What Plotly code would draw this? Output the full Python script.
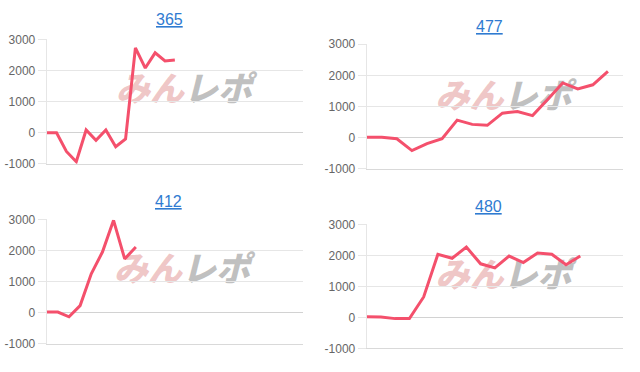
import plotly.graph_objects as go

W, H = 640, 372

titles = ["365", "477", "412", "480"]
values_365 = [0, 0, -600, -930, 90, -240, 90, -450, -200, 2730, 2080, 2570, 2310, 2340]
values_477 = [20, 20, -30, -410, -185, -30, 565, 430, 400, 790, 840, 710, 1230, 1760, 1570, 1700, 2130]
values_412 = [20, 20, -130, 230, 1250, 1950, 2970, 1730, 2110]
values_480 = [20, 10, -40, -40, 660, 2040, 1910, 2270, 1730, 1600, 1980, 1770, 2080, 2040, 1700, 1980]
label_counts = [27, 18, 24, 19]  # number of x labels per panel
series = [values_365, values_477, values_412, values_480]

y_ticks = [-1000, 0, 1000, 2000, 3000]

# panel layout in pixels: (left, right, top, bottom)
panels = [
    (46.7, 303, 33.7, 163.0),
    (366.7, 623, 38.7, 168.3),
    (46.7, 303, 220.7, 350.0),
    (366.7, 623, 226.0, 354.7),
]
title_pos = [(169, 13.5), (489, 20.5), (168, 202.5), (488, 207.5)]
wm_pos = [(184, 89), (503.5, 96), (182, 276), (503.5, 282)]

LINE = "#f4506c"
GRID = "#e6e6e6"

fig = go.Figure()

# watermark layer on the first (bottom) subplot, pixel coordinates
wm_x, wm_y = [p[0] for p in wm_pos], [p[1] for p in wm_pos]
fig.add_trace(go.Scatter(x=wm_x, y=wm_y, mode="text", text=["<i>みん</i>"] * 4,
                         textposition="middle left",
                         textfont=dict(family="Noto Sans CJK JP", size=34, weight=900,
                                       color="rgba(226,150,150,0.55)"),
                         xaxis="x", yaxis="y", hoverinfo="skip", showlegend=False))
fig.add_trace(go.Scatter(x=wm_x, y=wm_y, mode="text", text=["<i>レポ</i>"] * 4,
                         textposition="middle right",
                         textfont=dict(family="Noto Sans CJK JP", size=34, weight=900,
                                       color="rgba(150,150,150,0.6)"),
                         xaxis="x", yaxis="y", hoverinfo="skip", showlegend=False))

layout = dict(
    width=W, height=H, margin=dict(l=0, r=0, t=0, b=0),
    paper_bgcolor="white", plot_bgcolor="rgba(0,0,0,0)",
    showlegend=False,
    font=dict(family="Liberation Sans, Arial, sans-serif", color="#666666", size=12),
    xaxis=dict(domain=[0, 1], range=[0, W], visible=False, fixedrange=True),
    yaxis=dict(domain=[0, 1], range=[H, 0], visible=False, fixedrange=True),
)

annotations = []
for i, (vals, n, (l, r, t, b)) in enumerate(zip(series, label_counts, panels)):
    k = i + 2
    xa, ya = f"xaxis{k}", f"yaxis{k}"
    fig.add_trace(go.Scatter(x=list(range(len(vals))), y=vals, mode="lines",
                             line=dict(color=LINE, width=3),
                             xaxis=f"x{k}", yaxis=f"y{k}", hoverinfo="skip"))
    layout[xa] = dict(domain=[l / W, r / W], range=[0, n - 1], showgrid=False,
                      zeroline=False, showticklabels=False, ticks="",
                      showline=True, linecolor="#d9d9d9", linewidth=1, anchor=f"y{k}")
    layout[ya] = dict(domain=[1 - b / H, 1 - t / H], range=[-1000, 3000],
                      tickvals=y_ticks, ticktext=[str(v) for v in y_ticks],
                      showgrid=True, gridcolor=GRID, gridwidth=1,
                      zeroline=True, zerolinecolor="#d2d2d2", zerolinewidth=1,
                      showline=True, linecolor=GRID, linewidth=1,
                      ticks="outside", ticklen=8, tickcolor=GRID,
                      tickfont=dict(size=12, color="#666666"), anchor=f"x{k}")
    tx, ty = title_pos[i]
    annotations.append(dict(text=f"<u>{titles[i]}</u>", x=tx / W, y=1 - ty / H,
                            xref="paper", yref="paper", showarrow=False,
                            xanchor="center", yanchor="middle",
                            font=dict(size=16, color="#2f7bd1",
                                      family="Liberation Sans, Arial, sans-serif")))

layout["annotations"] = annotations
fig.update_layout(**layout)
fig.write_html("out.html")
